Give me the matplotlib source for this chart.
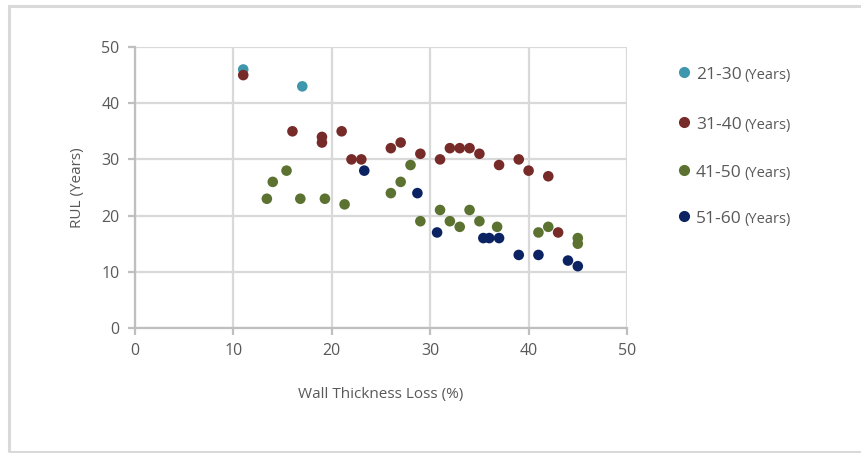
import matplotlib.pyplot as plt
from matplotlib.patches import Rectangle

# Wall thickness loss (%) vs remaining useful life (years), by pipe age group
x_21_30 = [11, 17]
y_21_30 = [46, 43]

x_31_40 = [11, 16, 19, 19, 21, 22, 23, 26, 27, 29, 31, 32, 33, 34, 35, 37, 39, 40, 42, 43]
y_31_40 = [45, 35, 34, 33, 35, 30, 30, 32, 33, 31, 30, 32, 32, 32, 31, 29, 30, 28, 27, 17]

x_41_50 = [13.4, 14, 15.4, 16.8, 19.3, 21.3, 26, 27, 28, 29, 31, 32, 33, 34, 35, 36.8, 41, 42, 45, 45]
y_41_50 = [23, 26, 28, 23, 23, 22, 24, 26, 29, 19, 21, 19, 18, 21, 19, 18, 17, 18, 16, 15]

x_51_60 = [23.3, 28.7, 30.7, 35.4, 36, 37, 39, 41, 44, 45]
y_51_60 = [28, 24, 17, 16, 16, 16, 13, 13, 12, 11]

groups = ['21-30', '31-40', '41-50', '51-60']
colors = ['#3F97AE', '#772B29', '#5B7230', '#0C2363']

W, H = 861, 453
fig = plt.figure(figsize=(W / 100, H / 100), dpi=100)
plt.rcParams['font.family'] = ['Open Sans', 'DejaVu Sans']

# light outer frame
fig.patches.append(Rectangle((9 / W, 1 / H), 1.0, (H - 7) / H, transform=fig.transFigure,
                             fill=False, edgecolor='#D9D9D9', linewidth=2.2, zorder=0))

ax = fig.add_axes([135 / W, 1 - 328 / H, (627 - 135) / W, (328 - 47) / H])

data = [(x_21_30, y_21_30), (x_31_40, y_31_40), (x_41_50, y_41_50), (x_51_60, y_51_60)]
for (xs, ys), c in zip(data, colors):
    ax.scatter(xs, ys, s=58, color=c, edgecolors='none', zorder=3)

ax.set_xlim(0, 50)
ax.set_ylim(0, 50)
ax.set_xticks(range(0, 51, 10))
ax.set_yticks(range(0, 51, 10))
ax.grid(True, color='#D9D9D9', linewidth=1.6)
ax.set_axisbelow(True)
for s in ['top', 'right']:
    ax.spines[s].set_visible(False)
for s in ['left', 'bottom']:
    ax.spines[s].set_color('#BFBFBF')
    ax.spines[s].set_linewidth(1.6)
ax.tick_params(direction='out', length=5, width=1.6, color='#BFBFBF',
               labelcolor='#595959', labelsize=11.5, pad=6)

ax.set_xlabel('Wall Thickness Loss (%)', color='#595959', fontsize=11, labelpad=20)
ax.set_ylabel('RUL (Years)', color='#595959', fontsize=11, labelpad=12)

# legend drawn by hand: larger range label, smaller "(Years)"
legend_y = [75, 125, 173, 219]
for g, c, yp in zip(groups, colors, legend_y):
    fig.lines.append(plt.Line2D([684 / W], [1 - (yp - 3) / H], transform=fig.transFigure,
                                marker='o', markersize=7, color=c, linestyle='none'))
    fig.text(696 / W, 1 - yp / H, g, fontsize=12.5, color='#595959', va='center')
    fig.text(744 / W, 1 - yp / H, '(Years)', fontsize=10.5, color='#595959', va='center')

fig.savefig('out.png', dpi=100)
